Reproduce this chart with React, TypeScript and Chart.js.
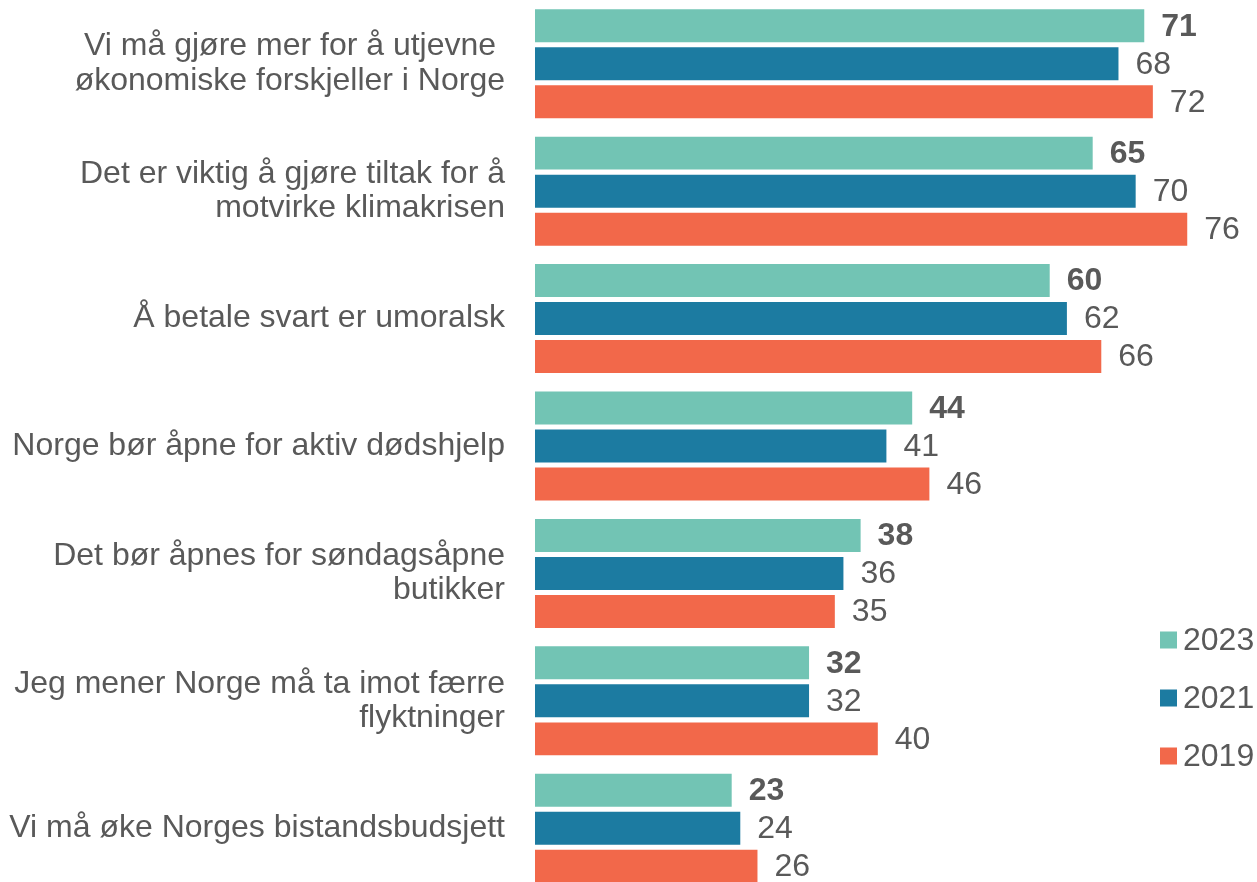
import React, { useEffect, useRef } from "react";
import { Chart, registerables } from "chart.js";

Chart.register(...registerables);

const categories: string[][] = [
  ["Vi må gjøre mer for å utjevne ", "økonomiske forskjeller i Norge"],
  ["Det er viktig å gjøre tiltak for å", "motvirke klimakrisen"],
  ["Å betale svart er umoralsk"],
  ["Norge bør åpne for aktiv dødshjelp"],
  ["Det bør åpnes for søndagsåpne", "butikker"],
  ["Jeg mener Norge må ta imot færre", "flyktninger"],
  ["Vi må øke Norges bistandsbudsjett"],
];

const seriesNames = ["2023", "2021", "2019"];
const values2023 = [71, 65, 60, 44, 38, 32, 23];
const values2021 = [68, 70, 62, 41, 36, 32, 24];
const values2019 = [72, 76, 66, 46, 35, 40, 26];
const colors = ["#72C4B4", "#1C7BA1", "#F2684A"];

const FONT = "'Liberation Sans', Arial, sans-serif";
const TEXT = "#595959";

const dataLabelPlugin = {
  id: "dataLabels",
  afterDatasetsDraw(chart: any) {
    const ctx = chart.ctx;
    ctx.save();
    chart.data.datasets.forEach((ds: any, di: number) => {
      const meta = chart.getDatasetMeta(di);
      meta.data.forEach((el: any, i: number) => {
        ctx.font = `${di === 0 ? "bold " : ""}32px ${FONT}`;
        ctx.fillStyle = TEXT;
        ctx.textAlign = "left";
        ctx.textBaseline = "middle";
        ctx.fillText(String(ds.data[i]), el.x + 16, el.y + 1);
      });
    });
    ctx.restore();
  },
};

const legendPlugin = {
  id: "customLegend",
  afterDraw(chart: any) {
    const ctx = chart.ctx;
    const area = chart.chartArea;
    ctx.save();
    const x0 = area.right - 97;
    const yStart = area.top + 640;
    const step = 58;
    chart.data.datasets.forEach((ds: any, di: number) => {
      const cy = yStart + di * step;
      ctx.fillStyle = ds.backgroundColor;
      ctx.fillRect(x0, cy - 8.5, 17, 17);
      ctx.font = `32px ${FONT}`;
      ctx.fillStyle = TEXT;
      ctx.textAlign = "left";
      ctx.textBaseline = "middle";
      ctx.fillText(ds.label, x0 + 23, cy + 1);
    });
    ctx.restore();
  },
};

export default function App() {
  const ref = useRef<HTMLCanvasElement | null>(null);
  useEffect(() => {
    if (!ref.current) return;
    const chart = new Chart(ref.current, {
      type: "bar",
      data: {
        labels: categories,
        datasets: [values2023, values2021, values2019].map((v, i) => ({
          label: seriesNames[i],
          data: v,
          backgroundColor: colors[i],
          borderColor: "rgba(255,255,255,0.5)",
          borderWidth: 1,
          categoryPercentage: 0.895,
          barPercentage: 0.92,
        })),
      },
      options: {
        indexAxis: "y",
        animation: false,
        responsive: true,
        maintainAspectRatio: false,
        layout: { padding: 0 },
        plugins: {
          legend: { display: false },
          tooltip: { enabled: false },
        },
        scales: {
          x: { display: false, min: 0, max: 84 },
          y: {
            afterFit(scale: any) {
              scale.width = 535;
              scale.paddingTop = 0;
              scale.paddingBottom = 0;
            },
            grid: { display: false, drawTicks: false },
            border: { display: false },
            ticks: {
              padding: 30,
              color: TEXT,
              font: { family: FONT, size: 32, lineHeight: 1.07 },
            },
          },
        },
      },
      plugins: [dataLabelPlugin, legendPlugin],
    });
    return () => chart.destroy();
  }, []);

  return (
    <div
      style={{
        position: "fixed",
        top: 0,
        left: 0,
        width: 1257,
        height: 882,
        overflow: "hidden",
        background: "#fff",
      }}
    >
      <div style={{ position: "relative", width: 1257, height: 892 }}>
        <canvas ref={ref} />
      </div>
    </div>
  );
}
